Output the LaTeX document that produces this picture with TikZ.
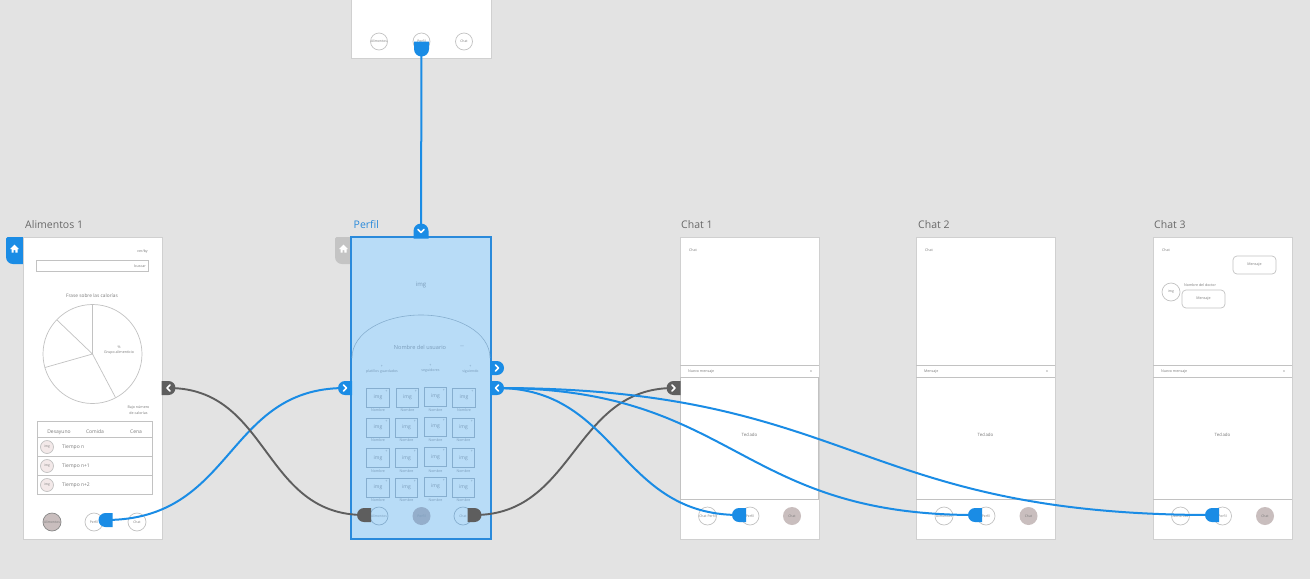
\documentclass[tikz,border=0pt]{standalone}
\usepackage{fontspec}
\setmainfont{Open Sans}
\usetikzlibrary{shapes.misc}
\definecolor{bgc}{HTML}{E3E3E3}
\definecolor{framec}{HTML}{D0D0D0}
\definecolor{linec}{HTML}{C2C2C2}
\definecolor{txtc}{HTML}{7A7A7A}
\definecolor{blu}{HTML}{1A8CE5}
\definecolor{dgray}{HTML}{5E5E5E}
\definecolor{sel}{HTML}{B8DCF7}
\definecolor{selb}{HTML}{2A8ADB}
\definecolor{sell}{HTML}{86AECF}
\definecolor{selt}{HTML}{7A9CBA}
\definecolor{roun}{HTML}{C9BEBE}
\definecolor{pinkc}{HTML}{F3E9E9}
\definecolor{tabg}{HTML}{C4C4C4}
\definecolor{navsel}{HTML}{94AECB}
\tikzset{
 frame/.style={draw=framec,fill=white,line width=.9pt},
 thin line/.style={draw=linec,line width=.7pt},
 title/.style={font=\fontsize{10.5}{12}\selectfont,text=txtc!85!black,inner sep=0pt,anchor=west},
 tiny/.style={font=\fontsize{3.6}{4.6}\selectfont,text=txtc,inner sep=0pt,align=center},
 small/.style={font=\fontsize{5}{6}\selectfont,text=txtc,inner sep=0pt,align=center},
 nav/.style={circle,draw=linec,line width=.7pt,fill=white,minimum size=18pt,inner sep=0pt,font=\fontsize{3.4}{4}\selectfont,text=txtc},
 navon/.style={nav,draw=none,fill=roun},
 snav/.style={nav,draw=sell,fill=sel,text=selt},
 cell/.style={draw=sell,line width=.6pt,minimum width=22.5pt,minimum height=19pt,inner sep=0pt,font=\fontsize{5}{6}\selectfont,text=selt},
 cellname/.style={font=\fontsize{3.6}{4.6}\selectfont,text=selt,inner sep=0pt},
 stiny/.style={tiny,text=selt},
 cdot/.style={circle,thin line,fill=pinkc,minimum size=13pt,inner sep=0pt,font=\fontsize{3.2}{4}\selectfont,text=txtc},
 bubble/.style={draw=linec,line width=.7pt,rounded corners=4pt,fill=white,minimum width=43pt,minimum height=18pt,inner sep=0pt,font=\fontsize{3.6}{4.6}\selectfont,text=txtc},
 plugL/.style={rounded rectangle,rounded rectangle right arc=none,minimum width=12.5pt,minimum height=14pt,inner sep=0pt,fill=#1},
 plugR/.style={rounded rectangle,rounded rectangle left arc=none,minimum width=12.5pt,minimum height=14pt,inner sep=0pt,fill=#1},
 chevline/.style={draw=white,line width=1.5pt,line cap=round,line join=round},
 wire/.style={draw=blu,line width=2pt},
 gwire/.style={draw=dgray,line width=1.9pt},
}
\newcommand{\chevR}[1]{\draw[chevline] ([shift={(-1.5,-3)}]#1.center) -- ([shift={(1.5,0)}]#1.center) -- ([shift={(-1.5,3)}]#1.center);}
\newcommand{\chevL}[1]{\draw[chevline] ([shift={(1.5,-3)}]#1.center) -- ([shift={(-1.5,0)}]#1.center) -- ([shift={(1.5,3)}]#1.center);}
\newcommand{\chevD}[1]{\draw[chevline] ([shift={(-3,-1.5)}]#1.center) -- ([shift={(0,1.5)}]#1.center) -- ([shift={(3,-1.5)}]#1.center);}
\newcommand{\homeicon}[2]{\fill[white] (#1-4.5,#2+.5) -- (#1,#2-4) -- (#1+4.5,#2+.5) -- (#1+3,#2+.5) -- (#1+3,#2+4) -- (#1+.9,#2+4) -- (#1+.9,#2+1.5) -- (#1-.9,#2+1.5) -- (#1-.9,#2+4) -- (#1-3,#2+4) -- (#1-3,#2+.5) -- cycle;}
\newcommand{\hometab}[3]{\fill[#3] (#2,237) -- (#1+1.5,237) to[out=180,in=90] (#1,238.5) -- (#1,257) to[out=270,in=180] (#1+7,264) -- (#2,264) -- cycle;}
\begin{document}
\begin{tikzpicture}[x=1pt,y=-1pt]
\useasboundingbox (0,0) rectangle (1310,579);
\fill[bgc] (0,0) rectangle (1310,579);

% --- top frame
\draw[frame] (351,-5) rectangle (491,58);
\node[nav,minimum size=17pt] (ta) at (379,41.5) {Alimentos};
\node[nav,minimum size=17pt] (tp) at (421.5,41.5) {Perfil};
\node[nav,minimum size=17pt] (tc) at (464,41.5) {Chat};

% --- Alimentos 1
\node[title] (t1) at (25,224.5) {Alimentos 1};
\hometab{6}{23}{blu}
\homeicon{14.5}{248.5}
\draw[frame] (23,237) rectangle (162,539);
\node[tiny,anchor=east] (a1) at (148,251.5) {ver/by};
\draw[thin line] (36,260) rectangle (148,271);
\node[tiny,anchor=east] (a2) at (146,266) {buscar};
\node[small,font=\fontsize{4.8}{6}\selectfont] (a3) at (92,296) {Frase sobre las calorías};
\draw[thin line] (92.5,354) circle (49.5);
\draw[thin line] (92.5,304.5) -- (92.5,354) -- (115.5,397.5);
\draw[thin line] (45,367.5) -- (92.5,354) -- (57,320);
\node[tiny] (a4) at (119,350.5) {\%\\[.6pt]Grupo alimenticio};
\node[tiny] (a5) at (138.5,410.5) {Bajo número\\[1.6pt]de calorías};
\draw[thin line] (37,421) rectangle (152,494);
\draw[thin line] (37,437) -- (152,437);
\draw[thin line] (37,456) -- (152,456);
\draw[thin line] (37,475) -- (152,475);
\node[small] (h1) at (59,432) {Desayuno};
\node[small] (h2) at (95,432) {Comida};
\node[small] (h3) at (136,432) {Cena};
\node[cdot] (c1) at (47,447) {img};
\node[cdot] (c2) at (47,466) {img};
\node[cdot] (c3) at (47,485) {img};
\node[small,anchor=west] (r1) at (62,447) {Tiempo n};
\node[small,anchor=west] (r2) at (62,466) {Tiempo n+1};
\node[small,anchor=west] (r3) at (62,485) {Tiempo n+2};
\node[navon,draw=linec!70!black] (na) at (52,522) {Alimentos};
\node[nav] (np) at (94,522) {Perfil};
\node[nav] (nc) at (137,522) {Chat};

% --- Perfil
\node[title,text=selb] (t2) at (353.5,224.5) {Perfil};
\hometab{335}{351}{tabg}
\homeicon{343.5}{248.5}
\draw[fill=sel,draw=selb,line width=1.1pt] (351,237) rectangle (491,539);
\node[small,font=\fontsize{6}{7}\selectfont,text=selt] (p1) at (421,285) {img};
\draw[draw=sell,line width=.6pt] (352,358) .. controls (352,332) and (385,315) .. (421,315) .. controls (457,315) and (490,332) .. (490,358);
\node[small,font=\fontsize{5.6}{7}\selectfont,text=selt] (p2) at (420,347) {Nombre del usuario};
\node[stiny,font=\fontsize{4}{5}\selectfont] (p2b) at (462,347) {---};
\node[stiny] (p3) at (382,369) {+\\[.3pt]platillos guardados};
\node[stiny] (p4) at (430.5,368.5) {+\\[.3pt]seguidores};
\node[stiny] (p5) at (470.5,369) {+\\[.3pt]siguiendo};
\foreach \row/\y/\ly/\xb/\xd in {1/397.5/410/407.5/464,2/427.5/440/406.5/463.5,3/458/471/406.5/463.5,4/487.5/500.5/406.5/463.5}{
  \node[cell] (g\row a) at (378,\y) {img};
  \node[cell] (g\row b) at (\xb,\y) {img};
  \node[cell] (g\row c) at (435.5,\y-1) {img};
  \node[cell] (g\row d) at (\xd,\y) {img};
  \node[cellname] (n\row a) at (378,\ly) {Nombre};
  \node[cellname] (n\row b) at (\xb,\ly) {Nombre};
  \node[cellname] (n\row c) at (435.5,\ly) {Nombre};
  \node[cellname] (n\row d) at (\xd,\ly) {Nombre};
  \node[stiny] (x\row a) at (386.5,\y-6.5) {+};
  \node[stiny] (x\row b) at (\xb+8.5,\y-6.5) {+};
  \node[stiny] (x\row c) at (444,\y-7.5) {+};
  \node[stiny] (x\row d) at (\xd+8.5,\y-6.5) {+};
}
\node[snav] (pa) at (379,516) {Alimentos};
\node[snav,draw=none,fill=navsel] (pp) at (421.5,516) {Perfil};
\node[snav] (pc) at (463,516) {Chat};

% --- Chats
\foreach \nm/\X/\T/\msg/\tname in {1/680/681/Nuevo mensaje/Chat 1,2/916/918/Mensaje/Chat 2,3/1153/1154/Nuevo mensaje/Chat 3}{
  \node[title] (ct\nm) at (\T,224.5) {\tname};
  \draw[frame] (\X,237) rectangle (\X+139,539);
  \draw[thin line] (\X,365) -- (\X+139,365);
  \draw[thin line] (\X,377) -- (\X+139,377);
  \draw[thin line] (\X,499) -- (\X+139,499);
  \node[tiny,anchor=west] (chead\nm) at (\X+9,250.5) {Chat};
  \node[tiny,anchor=west] (cmsg\nm) at (\X+8,371.5) {\msg};
  \node[tiny] (cx\nm) at (\X+131,371.5) {x};
  \node[small,font=\fontsize{4.4}{5}\selectfont] (ckb\nm) at (\X+69.5,434.5) {Teclado};
}
\draw[linec,line width=1pt] (680.5,377) -- (680.5,499);
\draw[linec,line width=1pt] (818.5,377) -- (818.5,499);
\node[nav] (c1a) at (707.5,516) {Chat Perfil};
\node[nav] (c1p) at (750,516) {Perfil};
\node[navon] (c1c) at (792,516) {Chat};
\node[nav] (c2a) at (944,516) {Alimentos};
\node[nav] (c2p) at (986,516) {Perfil};
\node[navon] (c2c) at (1028.5,516) {Chat};
\node[nav] (c3a) at (1180.5,516) {Alimentos};
\node[nav] (c3p) at (1222.5,516) {Perfil};
\node[navon] (c3c) at (1265,516) {Chat};
\node[bubble] (b1) at (1254.5,265) {Mensaje};
\node[bubble] (b2) at (1203.5,299) {Mensaje};
\node[nav] (b3) at (1171,292) {img};
\node[tiny,anchor=west] (b4) at (1184,285.5) {Nombre del doctor};

% --- handles
\node[plugL=blu] (hp) at (105.5,520) {};
\node[plugL=dgray] (hg1) at (364,515) {};
\node[plugR=dgray] (hg2) at (474.5,515) {};
\node[plugL=blu] (hc1) at (739,515) {};
\node[plugL=blu] (hc2) at (975,515) {};
\node[plugL=blu] (hc3) at (1212,515) {};
\node[plugR=blu,rotate=-90,minimum height=15pt] (ht) at (421.5,49) {};
\node[plugR=dgray,minimum width=13pt] (s1) at (168.5,388) {};
\node[plugL=blu] (s2) at (345,388) {};
\node[plugR=blu] (s3) at (497,368) {};
\node[plugR=blu] (s4) at (497,388) {};
\node[plugL=dgray,minimum width=13pt] (s5) at (673.5,388) {};
\node[plugR=blu,rotate=90,minimum height=15pt] (s6) at (421,231) {};

% --- connectors
\draw[wire] (hp.center) .. controls (235,520) and (225,388) .. (s2.center);
\draw[wire] (ht.center) -- (s6.center);
\draw[gwire] (s1.center) .. controls (270,388) and (262,515) .. (hg1.center);
\draw[gwire] (hg2.center) .. controls (575,515) and (573,388) .. (s5.center);
\draw[wire] (s4.center) .. controls (618,388) and (618,515) .. (hc1.center);
\draw[wire] (s4.center) .. controls (736,388) and (736,515) .. (hc2.center);
\draw[wire] (s4.center) .. controls (854,388) and (854,515) .. (hc3.center);

\chevL{s1}\chevR{s2}\chevR{s3}\chevL{s4}\chevR{s5}\chevD{s6}
\end{tikzpicture}
\end{document}
